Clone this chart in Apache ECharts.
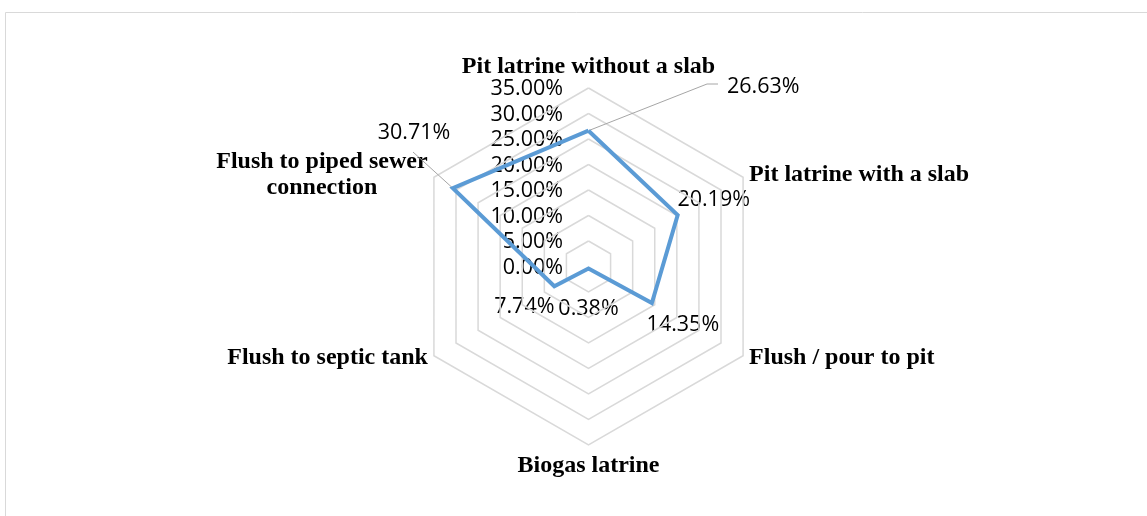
<!DOCTYPE html>
<html>
<head>
<meta charset="utf-8">
<script src="https://cdn.jsdelivr.net/npm/echarts@6/dist/echarts.min.js"></script>
<style>
  html, body { margin: 0; padding: 0; background: #fff; }
  #chart { width: 1147px; height: 516px; }
</style>
</head>
<body>
<div id="chart"></div>
<script>
// Toilet facility types, listed clockwise from the top
const categories = [
  'Pit latrine without a slab',
  'Pit latrine with a slab',
  'Flush / pour to pit',
  'Biogas latrine',
  'Flush to septic tank',
  'Flush to piped sewer\nconnection'
];
// Share of households (%)
const shares = [26.63, 20.19, 14.35, 0.38, 7.74, 30.71];
// Ring levels on the scale (%)
const ringTicks = [0, 5, 10, 15, 20, 25, 30, 35];

const MAX = 35;
const CX = 588.5, CY = 266.5, R = 178.5;
const n = categories.length;

// ECharts lays radar indicators out counter-clockwise; map to clockwise order
const ecOrder = categories.map((_, j) => (n - j) % n);

function pct(v) { return v.toFixed(2) + '%'; }
function vertex(i, v) {
  const a = Math.PI / 2 - i * 2 * Math.PI / n;
  const r = R * v / MAX;
  return [CX + r * Math.cos(a), CY - r * Math.sin(a)];
}

const chart = echarts.init(document.getElementById('chart'));

const nameFont = { fontFamily: 'Liberation Serif', fontWeight: 'bold', fontSize: 24, fill: '#000' };
const valFont = { fontFamily: 'Open Sans', fontSize: 21.5, fill: '#000' };

const graphics = [];
// outer frame
graphics.push({ type: 'rect', shape: { x: 5.5, y: 12.5, width: 1200, height: 600 },
  style: { fill: 'none', stroke: '#D9D9D9', lineWidth: 1 }, silent: true });

// ring level labels along the top axis
ringTicks.forEach(t => {
  const p = vertex(0, t);
  graphics.push({ type: 'text', x: 563, y: p[1] + 1,
    style: Object.assign({ text: pct(t), align: 'right', verticalAlign: 'middle' }, valFont) });
});

// category names placed around the outer ring
const namePlace = [
  { dx: 0, dy: -21, align: 'center' },
  { dx: 6, dy: -2, align: 'left' },
  { dx: 6, dy: 2, align: 'left' },
  { dx: 0, dy: 21, align: 'center' },
  { dx: -6, dy: 2, align: 'right' },
  { dx: -112, dy: -2, align: 'center' }
];
categories.forEach((c, i) => {
  const p = vertex(i, MAX);
  const o = namePlace[i];
  graphics.push({ type: 'text', x: p[0] + o.dx, y: p[1] + o.dy,
    style: Object.assign({ text: c, align: o.align, verticalAlign: 'middle', lineHeight: 26 }, nameFont) });
});

// value labels next to each point
const valPlace = [
  { lx: 727, ly: 87, align: 'left', leader: true, bend: [707, 84], end: [718, 84] },
  { dx: 36, dy: -15, align: 'center' },
  { dx: 31, dy: 22, align: 'center' },
  { dx: 0, dy: 40, align: 'center' },
  { dx: -30, dy: 21, align: 'center' },
  { lx: 414, ly: 133, align: 'center', leader: true, bend: [413, 152] }
];
shares.forEach((v, i) => {
  const p = vertex(i, v);
  const o = valPlace[i];
  let x, y;
  if (o.leader) {
    x = o.lx; y = o.ly;
    const pts = [[p[0], p[1]], o.bend];
    if (o.end) pts.push(o.end);
    graphics.push({ type: 'polyline', shape: { points: pts },
      style: { stroke: '#A6A6A6', lineWidth: 1, fill: 'none' }, silent: true, z: 1 });
  } else {
    x = p[0] + o.dx; y = p[1] + o.dy;
  }
  graphics.push({ type: 'text', x: x, y: y,
    style: Object.assign({ text: pct(v), align: o.align, verticalAlign: 'middle' }, valFont) });
});

chart.setOption({
  animation: false,
  backgroundColor: '#fff',
  radar: {
    center: [CX, CY],
    radius: R,
    startAngle: 90,
    shape: 'polygon',
    splitNumber: 7,
    indicator: ecOrder.map(i => ({ name: categories[i], min: 0, max: MAX })),
    axisName: { show: false },
    axisLine: { show: false },
    axisTick: { show: false },
    axisLabel: { show: false },
    splitArea: { show: false },
    splitLine: { lineStyle: { color: '#D9D9D9', width: 1.5 } }
  },
  series: [{
    type: 'radar',
    symbol: 'none',
    lineStyle: { color: '#5B9BD5', width: 4, join: 'miter' },
    data: [{ value: ecOrder.map(i => shares[i]) }]
  }],
  graphic: graphics
});
</script>
</body>
</html>
